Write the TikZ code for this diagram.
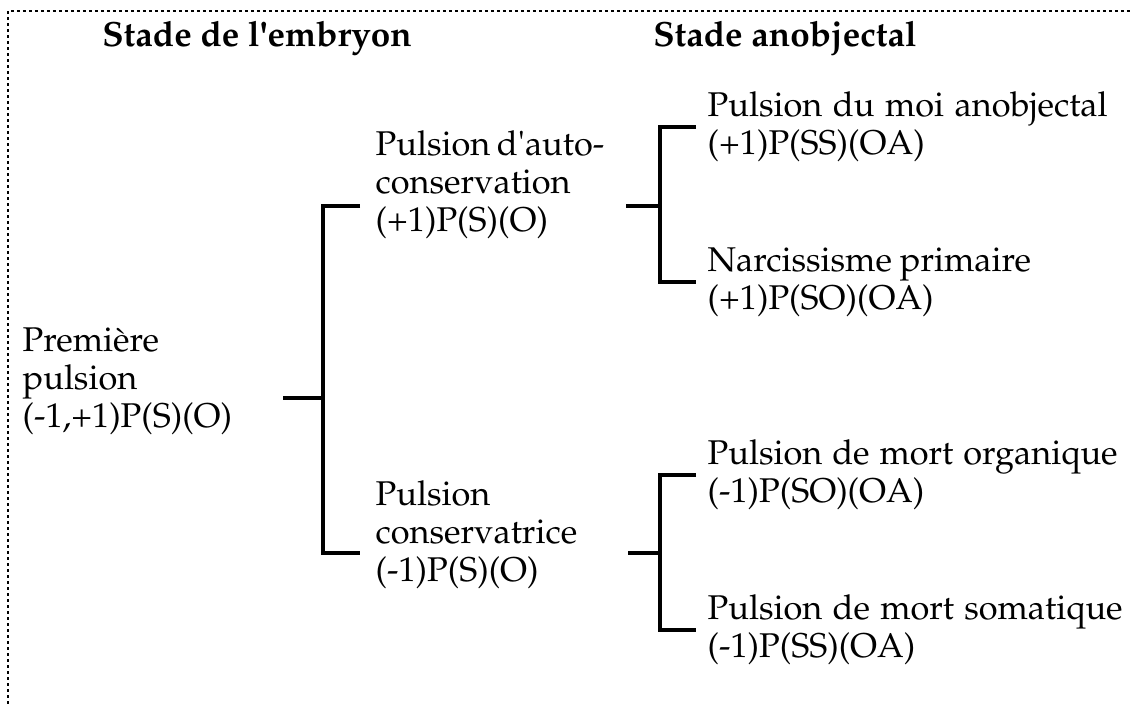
\documentclass[tikz,border=0pt]{standalone}
\usepackage[T1]{fontenc}
\usepackage{mathpazo}
\newcommand{\ligne}[2]{\makebox[#1][s]{#2}}
\begin{document}
\begin{tikzpicture}[x=0.3pt, y=-0.3pt,
  titre/.style={font=\fontsize{10.5}{12}\bfseries, inner sep=0pt, anchor=base},
  pulsion/.style={align=left, anchor=west, inner sep=0pt, font=\fontsize{10.3}{11.4}\selectfont},
  lien/.style={line width=1pt}]
  \useasboundingbox (0,0) rectangle (1130,704);
  % cadre en pointillé (haut et gauche)
  \draw[densely dotted, line width=0.8pt] (8,704) -- (8,11) -- (1130,11);
  % titres des colonnes
  \node[titre] (tembryon) at (257,47) {Stade de l\textquotesingle embryon};
  \node[titre] (tanobj) at (785,47) {Stade anobjectal};
  % pulsions
  \node[pulsion] (premiere) at (22,381) {Première\\pulsion\\(-1,+1)P(S)(O)};
  \node[pulsion] (autocons) at (375,185) {\ligne{68.4pt}{Pulsion d\textquotesingle auto-}\\conservation\\(+1)P(S)(O)};
  \node[pulsion] (conserv) at (375,535) {Pulsion\\conservatrice\\(-1)P(S)(O)};
  \node[pulsion] (moi) at (707,127) {\ligne{120pt}{Pulsion du moi anobjectal}\\(+1)P(SS)(OA)};
  \node[pulsion] (narc) at (707,282) {\ligne{97pt}{Narcissisme primaire}\\(+1)P(SO)(OA)};
  \node[pulsion] (mortorg) at (707,475) {\ligne{123pt}{Pulsion de mort organique}\\(-1)P(SO)(OA)};
  \node[pulsion] (mortsom) at (707,630) {\ligne{124.5pt}{Pulsion de mort somatique}\\(-1)P(SS)(OA)};
  % crochets
  \coordinate (s1) at (283,398); \coordinate (j1) at (323,398);
  \coordinate (h1) at (360,206); \coordinate (b1) at (360,553);
  \draw[lien] (s1) -- (j1);
  \draw[lien] (h1) -| (j1) |- (b1);
  \coordinate (s2) at (626,206); \coordinate (j2) at (660,206);
  \coordinate (h2) at (696,127); \coordinate (b2) at (696,282);
  \draw[lien] (s2) -- (j2);
  \draw[lien] (h2) -| (j2) |- (b2);
  \coordinate (s3) at (628,553); \coordinate (j3) at (660,553);
  \coordinate (h3) at (696,475); \coordinate (b3) at (696,630);
  \draw[lien] (s3) -- (j3);
  \draw[lien] (h3) -| (j3) |- (b3);
\end{tikzpicture}
\end{document}
